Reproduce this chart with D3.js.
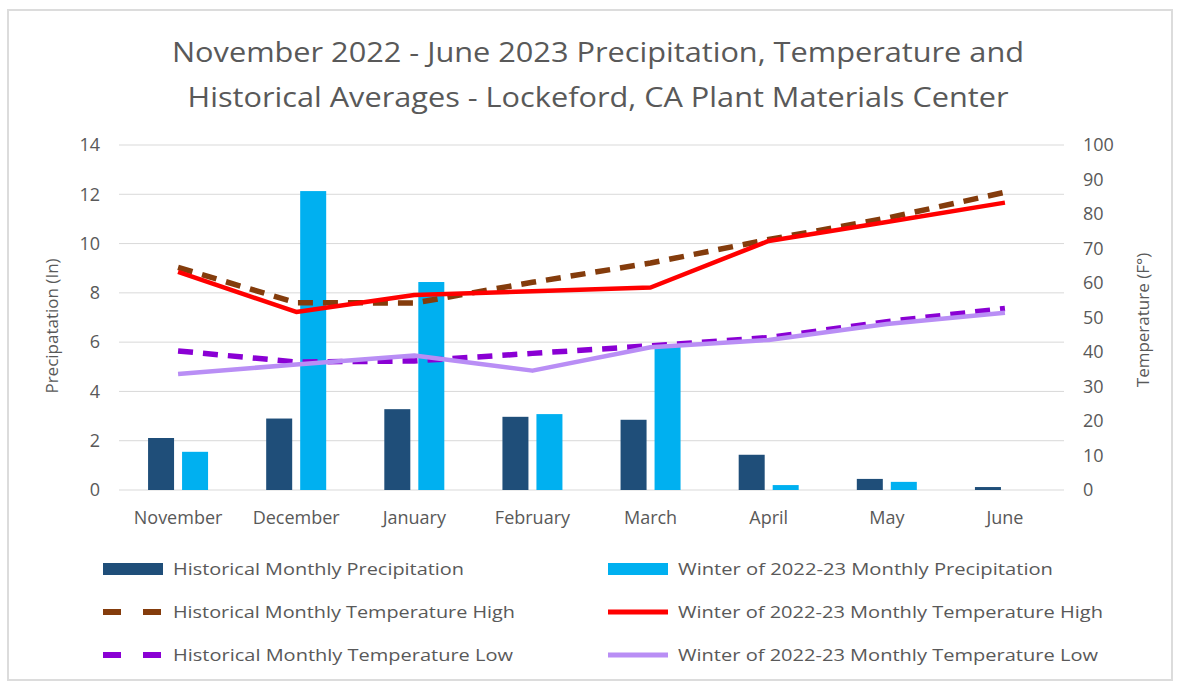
<!DOCTYPE html>
<html>
<head>
<meta charset="utf-8">
<script src="https://cdn.jsdelivr.net/npm/d3@7"></script>
<style>
  body { margin: 0; background: #fff; }
  text { font-family: "Open Sans", sans-serif; fill: #595959; }
</style>
</head>
<body>
<svg id="chart" width="1182" height="685"></svg>
<script>
// data
var months = ['November', 'December', 'January', 'February', 'March', 'April', 'May', 'June'];
var histPrecip = [2.11, 2.9, 3.28, 2.97, 2.85, 1.43, 0.45, 0.12];
var winterPrecip = [1.55, 12.13, 8.44, 3.08, 5.9, 0.2, 0.33, 0];
var histHigh = [64.5, 54.3, 54.2, 60.2, 65.8, 72.6, 78.8, 86.3];
var winterHigh = [63.2, 51.6, 56.5, 57.6, 58.7, 72.2, 77.7, 83.3];
var histLow = [40.3, 37.1, 37.4, 39.6, 41.8, 44.2, 48.8, 52.6];
var winterLow = [33.6, 36.4, 39.0, 34.6, 41.4, 43.5, 48.1, 51.4];
var precipTicks = [0, 2, 4, 6, 8, 10, 12, 14];
var tempTicks = [0, 10, 20, 30, 40, 50, 60, 70, 80, 90, 100];

var svg = d3.select('#chart');

svg.append('rect')
  .attr('x', 8).attr('y', 10)
  .attr('width', 1164).attr('height', 670)
  .attr('fill', '#fff')
  .attr('stroke', '#dcdcdc').attr('stroke-width', 2);

// title
var titleLines = [
  { t: 'November 2022 - June 2023 Precipitation, Temperature and', y: 62, w: 852 },
  { t: 'Historical Averages - Lockeford, CA Plant Materials Center', y: 107, w: 821 }
];
svg.selectAll('.title').data(titleLines).enter()
  .append('text')
  .attr('class', 'title')
  .attr('x', 598).attr('y', d => d.y)
  .attr('text-anchor', 'middle')
  .attr('font-size', 28)
  .attr('textLength', d => d.w)
  .attr('lengthAdjust', 'spacingAndGlyphs')
  .text(d => d.t);

var plotL = 119, plotR = 1064, plotT = 145, plotB = 490;

var x = d3.scaleBand().domain(months).range([plotL, plotR]);
var yP = d3.scaleLinear().domain([0, 14]).range([plotB, plotT]);
var yT = d3.scaleLinear().domain([0, 100]).range([plotB, plotT]);

// gridlines
svg.append('g').selectAll('line').data(precipTicks).enter()
  .append('line')
  .attr('x1', plotL).attr('x2', plotR)
  .attr('y1', d => yP(d)).attr('y2', d => yP(d))
  .attr('stroke', '#d9d9d9').attr('stroke-width', 1);

// left axis
var leftAxis = svg.append('g')
  .attr('transform', 'translate(' + plotL + ',0)')
  .call(d3.axisLeft(yP).tickValues(precipTicks).tickSize(0).tickPadding(19));
leftAxis.select('.domain').remove();
leftAxis.selectAll('text').attr('font-size', 18).attr('fill', '#595959')
  .style('font-family', '"Open Sans", sans-serif');

// right axis
var rightAxis = svg.append('g')
  .attr('transform', 'translate(' + plotR + ',0)')
  .call(d3.axisRight(yT).tickValues(tempTicks).tickSize(0).tickPadding(19));
rightAxis.select('.domain').remove();
rightAxis.selectAll('text').attr('font-size', 18).attr('fill', '#595959')
  .style('font-family', '"Open Sans", sans-serif');

// month axis
var bottomAxis = svg.append('g')
  .attr('transform', 'translate(0,' + plotB + ')')
  .call(d3.axisBottom(x).tickSize(0).tickPadding(21));
bottomAxis.select('.domain').remove();
bottomAxis.selectAll('text').attr('font-size', 18).attr('fill', '#595959')
  .style('font-family', '"Open Sans", sans-serif');

// axis titles
svg.append('text')
  .attr('transform', 'translate(58,326) rotate(-90)')
  .attr('text-anchor', 'middle')
  .attr('font-size', 17)
  .text('Precipatation (In)');
svg.append('text')
  .attr('transform', 'translate(1149,320) rotate(-90)')
  .attr('text-anchor', 'middle')
  .attr('font-size', 17)
  .text('Temperature (F°)');

// bars
var barW = 26, off = 17;
svg.append('g').selectAll('rect').data(histPrecip).enter()
  .append('rect')
  .attr('x', (d, i) => x(months[i]) + x.bandwidth() / 2 - off - barW / 2)
  .attr('y', d => yP(d))
  .attr('width', barW)
  .attr('height', d => plotB - yP(d))
  .attr('fill', '#1f4e79');
svg.append('g').selectAll('rect').data(winterPrecip).enter()
  .append('rect')
  .attr('x', (d, i) => x(months[i]) + x.bandwidth() / 2 + off - barW / 2)
  .attr('y', d => yP(d))
  .attr('width', barW)
  .attr('height', d => plotB - yP(d))
  .attr('fill', '#00b0f0');

// lines
var lineGen = d3.line()
  .x((d, i) => x(months[i]) + x.bandwidth() / 2)
  .y(d => yT(d));

var series = [
  { name: 'Historical Monthly Precipitation', type: 'bar', color: '#1f4e79' },
  { name: 'Winter of 2022-23 Monthly Precipitation', type: 'bar', color: '#00b0f0' },
  { name: 'Historical Monthly Temperature High', type: 'line', values: histHigh, color: '#843c0c', dash: '15,10', width: 5.5 },
  { name: 'Winter of 2022-23 Monthly Temperature High', type: 'line', values: winterHigh, color: '#ff0000', dash: null, width: 4.5 },
  { name: 'Historical Monthly Temperature Low', type: 'line', values: histLow, color: '#8a00d4', dash: '15,10', width: 5.5 },
  { name: 'Winter of 2022-23 Monthly Temperature Low', type: 'line', values: winterLow, color: '#b98ef5', dash: null, width: 4.5 }
];
var lineOrder = [series[4], series[5], series[2], series[3]];
svg.append('g').selectAll('path').data(lineOrder).enter()
  .append('path')
  .attr('d', d => lineGen(d.values))
  .attr('fill', 'none')
  .attr('stroke', d => d.color)
  .attr('stroke-width', d => d.width)
  .attr('stroke-dasharray', d => d.dash)
  .attr('stroke-linejoin', 'round');

// legend
var legendW = [291, 375, 342, 425, 340, 420];
var legend = svg.append('g').selectAll('g').data(series).enter()
  .append('g')
  .attr('transform', (d, i) => 'translate(' + (i % 2 === 0 ? 103 : 608) + ',' + (569 + Math.floor(i / 2) * 43) + ')');
legend.each(function(d) {
  var g = d3.select(this);
  if (d.type === 'bar') {
    g.append('rect').attr('x', 0).attr('y', -6).attr('width', 60).attr('height', 12).attr('fill', d.color);
  } else {
    g.append('line').attr('x1', 0).attr('x2', 60).attr('y1', 0).attr('y2', 0)
      .attr('stroke', d.color).attr('stroke-width', d.width + 0.5)
      .attr('stroke-dasharray', d.dash ? '18,22' : null);
  }
});
legend.append('text')
  .attr('x', 70).attr('y', 6)
  .attr('font-size', 17)
  .attr('textLength', (d, i) => legendW[i])
  .attr('lengthAdjust', 'spacingAndGlyphs')
  .text(d => d.name);
</script>
</body>
</html>
